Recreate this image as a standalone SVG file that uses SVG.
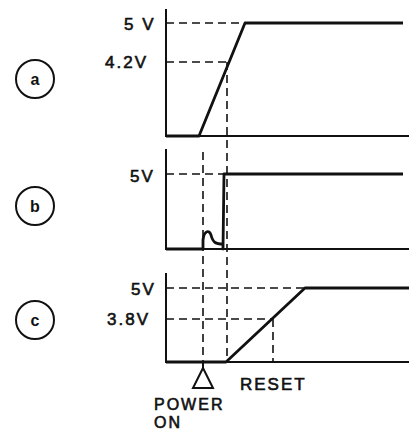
<svg xmlns="http://www.w3.org/2000/svg" width="409" height="431" viewBox="0 0 409 431">
<style>
.ax{stroke:#111;stroke-width:2;fill:none}
.sig{stroke:#111;stroke-width:2.8;fill:none;stroke-linejoin:round}
.dash{stroke:#111;stroke-width:1.6;fill:none;stroke-dasharray:8 5}
.lbl{font-family:"Liberation Sans",Arial,sans-serif;font-size:17px;fill:#111;stroke:#111;stroke-width:0.6;letter-spacing:2px}
.sm{font-size:16px}
.circ{stroke:#111;stroke-width:2;fill:none}
.cl{font-family:"Liberation Sans",Arial,sans-serif;font-size:16px;font-weight:bold;fill:#111;text-anchor:middle}
</style>
<rect width="409" height="431" fill="#fff"/>
<g id="connectors">
<line class="dash" x1="227" y1="62" x2="227" y2="362"/>
<line class="dash" x1="203" y1="152" x2="203" y2="362"/>
<line class="ax" x1="203" y1="362" x2="203" y2="368"/>
</g>
<g id="panel-a">
<circle class="circ" cx="35" cy="79" r="19"/>
<text class="cl" x="35" y="85">a</text>
<polyline class="ax" points="166,9 166,136 409,136"/>
<line class="dash" x1="166" y1="23" x2="245" y2="23"/>
<line class="dash" x1="166" y1="62" x2="227" y2="62"/>
<polyline class="sig" points="166,136 199,136 245,23 403,23"/>
<text class="lbl" x="124" y="30">5 V</text>
<text class="lbl" x="105" y="68">4.2V</text>
</g>
<g id="panel-b">
<circle class="circ" cx="35" cy="206" r="19"/>
<text class="cl" x="35" y="212">b</text>
<polyline class="ax" points="166,149 166,249 409,249"/>
<line class="dash" x1="166" y1="174" x2="225" y2="174"/>
<path class="sig" d="M166,249 L203,249 L203,240 C204,231 209,229 211,235 C213,243 216,244 223,244 L223,249 L224,174 L403,174"/>
<text class="lbl" x="130" y="182">5V</text>
</g>
<g id="panel-c">
<circle class="circ" cx="35" cy="320" r="19"/>
<text class="cl" x="35" y="326">c</text>
<polyline class="ax" points="166,273 166,362 409,362"/>
<line class="dash" x1="166" y1="288" x2="305" y2="288"/>
<line class="dash" x1="166" y1="319" x2="273" y2="319"/>
<line class="dash" x1="273" y1="319" x2="273" y2="362"/>
<polyline class="sig" points="166,362 226,362 305,288 409,288"/>
<text class="lbl" x="131" y="295">5V</text>
<text class="lbl" x="107" y="325">3.8V</text>
</g>
<g id="power-on">
<polygon class="ax" points="203,368 193,388 213,388"/>
<text class="lbl sm" x="154" y="410">POWER</text>
<text class="lbl sm" x="154" y="428">ON</text>
</g>
<g id="reset">
<text class="lbl" x="240" y="390">RESET</text>
</g>
</svg>
